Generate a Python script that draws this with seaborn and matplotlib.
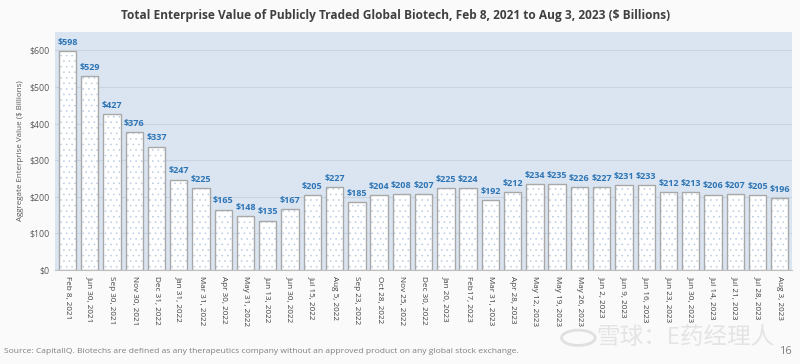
import numpy as np
import pandas as pd
import matplotlib.pyplot as plt
import seaborn as sns

# data
dates = ["Feb 8, 2021", "Jun 30, 2021", "Sep 30, 2021", "Nov 30, 2021", "Dec 31, 2022",
         "Jan 31, 2022", "Mar 31, 2022", "Apr 30, 2022", "May 31, 2022", "Jun 13, 2022",
         "Jun 30, 2022", "Jul 15, 2022", "Aug 5, 2022", "Sep 23, 2022", "Oct 28, 2022",
         "Nov 25, 2022", "Dec 30, 2022", "Jan 20, 2023", "Feb17, 2023", "Mar 31, 2023",
         "Apr 28, 2023", "May 12, 2023", "May 19, 2023", "May 26, 2023", "Jun 2, 2023",
         "Jun 9, 2023", "Jun 16, 2023", "Jun 23, 2023", "Jun 30, 2023", "Jul 14, 2023",
         "Jul 21, 2023", "Jul 28, 2023", "Aug 3, 2023"]
values = [598, 529, 427, 376, 337, 247, 225, 165, 148, 135, 167, 205, 227, 185, 204,
          208, 207, 225, 224, 192, 212, 234, 235, 226, 227, 231, 233, 212, 213, 206,
          207, 205, 196]
yticks = [0, 100, 200, 300, 400, 500, 600]

df = pd.DataFrame({'date': dates, 'ev': values})

sns.set_style("white")
plt.rcParams['font.family'] = ['Open Sans', 'Noto Sans CJK SC', 'DejaVu Sans']
plt.rcParams['hatch.linewidth'] = 0.4

fig = plt.figure(figsize=(8, 3.64), dpi=100, facecolor='#fafafa')
ax = fig.add_axes([0.069, 0.258, 0.921, 0.654])
ax.set_facecolor('#dbe5f1')

# dotted fill
sns.barplot(data=df, x='date', y='ev', ax=ax, color='white', width=0.78,
            edgecolor='#b8cbe2', linewidth=0, hatch='...', saturation=1)
# outline
sns.barplot(data=df, x='date', y='ev', ax=ax, fill=False, width=0.78,
            edgecolor='#a8a8a8', linewidth=1.0)

ax.bar_label(ax.containers[0], labels=[f"${v}" for v in values], padding=3,
             color='#2e75b6', fontsize=6.5, fontweight='bold')

ax.set_ylim(0, 650)
ax.set_xlim(-0.55, len(dates) - 0.45)
ax.set_yticks(yticks)
ax.set_yticklabels([f"${t}" for t in yticks], color='#595959', fontsize=6.3)
ax.yaxis.grid(True, color='#c8d4e2', linewidth=0.8)
ax.set_axisbelow(True)
ax.tick_params(axis='both', length=0, pad=4)
ax.set_xticks(range(len(dates)))
ax.set_xticklabels(dates, rotation=-90, fontsize=5.9, color='#404040')
ax.set_xlabel("")
ax.set_ylabel("Aggregate Enterprise Value ($ Billions)", fontsize=5.8, color='#595959')
for s in ['top', 'right', 'left']:
    ax.spines[s].set_visible(False)
ax.spines['bottom'].set_color('#bfbfbf')

fig.text(0.495, 0.958, "Total Enterprise Value of Publicly Traded Global Biotech, Feb 8, 2021 to Aug 3, 2023 ($ Billions)",
         ha='center', va='center', fontsize=8.6, fontweight='bold', color='#404040')
fig.text(0.005, 0.033, "Source: CapitalIQ. Biotechs are defined as any therapeutics company without an approved product on any global stock exchange.",
         ha='left', va='center', fontsize=6.1, color='#7f7f7f')
fig.text(0.99, 0.033, "16", ha='right', va='center', fontsize=8, color='#7f7f7f')

# watermark
fig.text(0.745, 0.072, "雪球：E药经理人", ha='left', va='center', fontsize=17,
         color='#e4e4e4')
fig.patches.append(plt.Circle((0.723, 0.072), 0.021, transform=fig.transFigure,
                              fill=False, edgecolor='#e0e0e0', linewidth=2.0,
                              figure=fig))

plt.savefig("out.png", dpi=100, facecolor=fig.get_facecolor())
plt.close()
